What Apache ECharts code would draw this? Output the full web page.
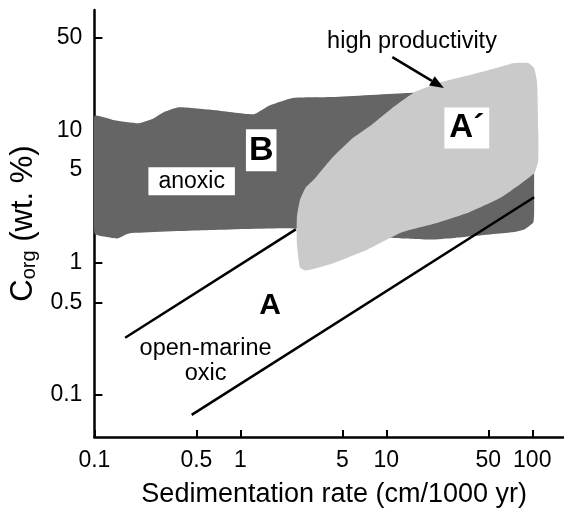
<!DOCTYPE html>
<html>
<head>
<meta charset="utf-8">
<style>
  html, body { margin: 0; padding: 0; background: #fff; }
  #main { width: 564px; height: 515px; }
</style>
<script src="https://cdn.jsdelivr.net/npm/echarts@6.0.0/dist/echarts.min.js"></script>
</head>
<body>
<div id="main"></div>
<script>
var FONT = '"Liberation Sans", Arial, Helvetica, sans-serif';

// tick values on both log axes
var xTicks = [0.1, 0.5, 1, 5, 10, 50, 100];
var yTicks = [0.1, 0.5, 1, 5, 10, 50];

// field B (anoxic) outline: sedimentation rate / Corg
var anoxicX = [0.1, 0.137, 0.202, 0.256, 0.30, 0.379, 0.655, 1.23, 1.55, 2.29, 4.29, 14.3, 28, 103,
  103, 103, 101.6, 88.3, 71.9, 36.7, 21.5, 12.8, 5.87, 2.29, 0.56, 0.173, 0.143, 0.117, 0.1];
var anoxicY = [12.8, 11.9, 11.3, 12.3, 13.7, 14.9, 14.2, 13.2, 15.2, 17.5, 17.8, 19.1, 19.4, 16.9,
  4.98, 2.35, 2.01, 1.78, 1.69, 1.57, 1.49, 1.52, 1.60, 1.81, 1.75, 1.66, 1.52, 1.57, 1.66];

// field A' (high productivity) outline
var prodX = [2.56, 2.81, 3.29, 4.29, 5.87, 8.03, 11.0, 15.7, 24.0, 45.0, 75.4, 93.9, 103, 108, 110,
  110, 103, 61.5, 36.7, 21.5, 12.8, 7.20, 4.29, 2.81, 2.56, 2.44, 2.44];
var prodY = [2.95, 3.70, 4.40, 6.24, 8.70, 11.1, 14.7, 19.4, 23.1, 27.5, 32.2, 32.2, 29.5, 22.7, 9.49,
  5.93, 4.72, 3.11, 2.39, 1.97, 1.69, 1.23, 0.983, 0.870, 0.917, 1.39, 2.19];

// the two lines bounding field A (open-marine oxic)
var oxicUpperX = [0.1625, 2.40];
var oxicUpperY = [0.270, 1.78];
var oxicLowerX = [0.464, 103];
var oxicLowerY = [0.0705, 3.11];

// arrow pointing at A'
var arrowX = [11.0, 24.8];
var arrowY = [35.7, 20.8];

// annotations
var noteText = ['anoxic', 'B', 'A\u00b4', 'A', 'open-marine\noxic', 'high productivity'];
var noteX = [0.464, 1.39, 35.6, 1.60, 0.578, 15.0];
var noteY = [4.11, 7.05, 10.4, 0.472, 0.181, 46.4];

function pairs(xs, ys) {
  return xs.map(function (x, i) { return [x, ys[i]]; });
}

function fieldSeries(name, xs, ys, color, z) {
  return {
    name: name,
    type: 'custom',
    silent: true,
    clip: true,
    z: z,
    data: pairs(xs, ys),
    renderItem: function (params, api) {
      if (params.dataIndex !== 0) return null;
      var pts = xs.map(function (x, i) { return api.coord([x, ys[i]]); });
      return {
        type: 'polygon',
        shape: { points: pts, smooth: 0.15 },
        style: { fill: color }
      };
    }
  };
}

function lineSeries(name, xs, ys) {
  return {
    name: name,
    type: 'line',
    silent: true,
    z: 5,
    symbol: 'none',
    data: pairs(xs, ys),
    lineStyle: { color: '#000', width: 2.5 }
  };
}

var noteStyle = [
  { font: '23px ' + FONT, box: true, pad: [3, 10, 2, 10] },
  { font: 'bold 34px ' + FONT, box: true, pad: [5, 3, 3, 3] },
  { font: 'bold 33px ' + FONT, box: true, pad: [5, 5, 3, 5] },
  { font: 'bold 30px ' + FONT, box: false },
  { font: '23.5px ' + FONT, box: false, lh: 25 },
  { font: '23.5px ' + FONT, box: false }
];

var chart = echarts.init(document.getElementById('main'), null, { renderer: 'canvas' });

var option = {
  animation: false,
  backgroundColor: '#fff',
  grid: { left: 92, right: 0, top: 10, bottom: 78 },
  xAxis: {
    type: 'log',
    logBase: 10,
    min: 0.1,
    max: 165,
    name: 'Sedimentation rate (cm/1000 yr)',
    nameLocation: 'middle',
    nameGap: 44,
    nameTextStyle: { fontFamily: FONT, fontSize: 27, color: '#000', padding: [0, 0, 0, 10] },
    axisLine: { onZero: false, lineStyle: { color: '#000', width: 2.5 } },
    axisTick: { inside: true, length: 7, customValues: xTicks, lineStyle: { color: '#000', width: 2 } },
    axisLabel: {
      customValues: xTicks,
      margin: 12,
      fontFamily: FONT,
      fontSize: 23,
      color: '#000',
      formatter: function (v) { return String(+(+v).toPrecision(3)); }
    },
    splitLine: { show: false },
    minorTick: { show: false }
  },
  yAxis: {
    type: 'log',
    logBase: 10,
    min: 0.048,
    max: 81,
    name: '{c|C}{s|org}{c| (wt. %)}',
    nameLocation: 'middle',
    nameRotate: 90,
    nameGap: 52,
    nameTextStyle: {
      color: '#000',
      rich: {
        c: { fontFamily: FONT, fontSize: 31, color: '#000', lineHeight: 32 },
        s: { fontFamily: FONT, fontSize: 20, color: '#000', lineHeight: 20, verticalAlign: 'bottom' }
      }
    },
    axisLine: { onZero: false, lineStyle: { color: '#000', width: 2.5 } },
    axisTick: { inside: true, length: 8, customValues: yTicks, lineStyle: { color: '#000', width: 2 } },
    axisLabel: {
      customValues: yTicks,
      margin: 12,
      fontFamily: FONT,
      fontSize: 23,
      color: '#000',
      formatter: function (v) { return String(+(+v).toPrecision(3)); }
    },
    splitLine: { show: false },
    minorTick: { show: false }
  },
  series: [
    fieldSeries('anoxic', anoxicX, anoxicY, '#656565', 1),
    fieldSeries('high productivity', prodX, prodY, '#cacaca', 2),
    lineSeries('oxic upper', oxicUpperX, oxicUpperY),
    lineSeries('oxic lower', oxicLowerX, oxicLowerY),
    {
      name: 'arrow',
      type: 'custom',
      silent: true,
      z: 6,
      data: pairs(arrowX, arrowY),
      renderItem: function (params, api) {
        if (params.dataIndex !== 0) return null;
        var a = api.coord([arrowX[0], arrowY[0]]);
        var b = api.coord([arrowX[1], arrowY[1]]);
        var dx = b[0] - a[0], dy = b[1] - a[1];
        var len = Math.sqrt(dx * dx + dy * dy);
        var ux = dx / len, uy = dy / len;
        var hl = 14, hw = 5.5;
        var base = [b[0] - ux * hl, b[1] - uy * hl];
        return {
          type: 'group',
          children: [
            {
              type: 'line',
              shape: { x1: a[0], y1: a[1], x2: base[0], y2: base[1] },
              style: { stroke: '#000', lineWidth: 2.5 }
            },
            {
              type: 'polygon',
              shape: { points: [b, [base[0] - uy * hw, base[1] + ux * hw], [base[0] + uy * hw, base[1] - ux * hw]] },
              style: { fill: '#000' }
            }
          ]
        };
      }
    },
    {
      name: 'notes',
      type: 'custom',
      silent: true,
      z: 7,
      data: pairs(noteX, noteY),
      renderItem: function (params, api) {
        var i = params.dataIndex;
        var p = api.coord([api.value(0), api.value(1)]);
        var st = noteStyle[i];
        var style = {
          text: noteText[i],
          font: st.font,
          fill: '#000',
          align: 'center',
          verticalAlign: 'middle'
        };
        if (st.lh) style.lineHeight = st.lh;
        if (st.box) {
          style.backgroundColor = '#fff';
          style.padding = st.pad;
        }
        return { type: 'text', x: p[0], y: p[1], style: style };
      }
    }
  ]
};

chart.setOption(option);
</script>
</body>
</html>
